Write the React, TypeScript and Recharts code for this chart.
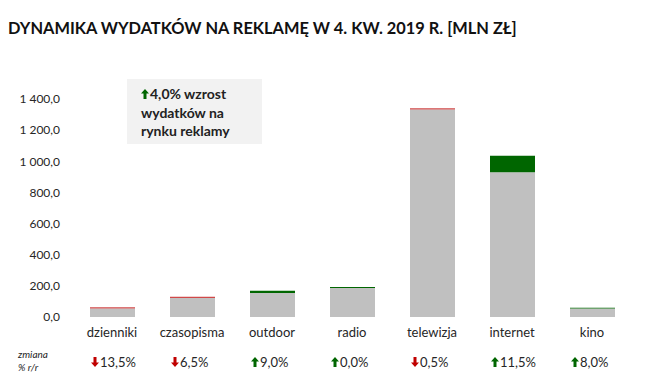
import { BarChart, Bar, XAxis, YAxis } from 'recharts';

const categories = ['dzienniki', 'czasopisma', 'outdoor', 'radio', 'telewizja', 'internet', 'kino'];
const baseValues = [54, 122, 154, 187, 1333, 929, 55];
const growthValues = [0, 0, 14, 5, 0, 106, 4.5];
const dropValues = [8.4, 8.5, 0, 0, 7, 0, 0];
const changePct = [-13.5, -6.5, 9.0, 0.0, -0.5, 11.5, 8.0];
const yTicks = [0, 200, 400, 600, 800, 1000, 1200, 1400];

const data = categories.map((name, i) => ({
    name,
    base: baseValues[i],
    growth: growthValues[i],
    drop: dropValues[i],
    pct: changePct[i],
}));

const FONT = 'Lato, "Open Sans", sans-serif';
const GREEN = '#006600';
const RED = '#c00000';
const TEXT = '#262626';

const fmtNum = (v: number) => {
    const [int, dec] = v.toFixed(1).split('.');
    return int.replace(/\B(?=(\d{3})+(?!\d))/g, ' ') + ',' + dec;
};

const Arrow = ({ x, y, up, color }: { x: number; y: number; up: boolean; color: string }) => {
    // arrow 8 wide, 10 tall, centred at x,y
    const pts = up
        ? [[0, -5], [4, -0.5], [1.5, -0.5], [1.5, 5], [-1.5, 5], [-1.5, -0.5], [-4, -0.5]]
        : [[0, 5], [4, 0.5], [1.5, 0.5], [1.5, -5], [-1.5, -5], [-1.5, 0.5], [-4, 0.5]];
    return <polygon points={pts.map(([a, b]) => `${x + a},${y + b}`).join(' ')} fill={color} />;
};

const CategoryTick = ({ x, y, payload, index }: any) => {
    const pct = changePct[index];
    const up = pct >= 0;
    const label = Math.abs(pct).toFixed(1).replace('.', ',') + '%';
    return (
        <g>
            <text x={x} y={y + 12} textAnchor="middle" fontSize={13} fill={TEXT} fontFamily={FONT}>
                {payload.value}
            </text>
            <Arrow x={x - 17} y={y + 37} up={up} color={up ? GREEN : RED} />
            <text x={x - 12} y={y + 42} textAnchor="start" fontSize={13} fill={TEXT} fontFamily={FONT}>
                {label}
            </text>
        </g>
    );
};

export default function App() {
    return (
        <div style={{ position: 'absolute', left: 0, top: 0, width: 655, height: 389, background: '#fff', fontFamily: FONT }}>
            <div style={{ position: 'absolute', left: 8, top: 18, fontSize: 16.4, fontWeight: 700, color: '#111', whiteSpace: 'nowrap' }}>
                DYNAMIKA WYDATKÓW NA REKLAMĘ W 4. KW. 2019 R. [MLN ZŁ]
            </div>
            <div
                style={{
                    position: 'absolute',
                    left: 127,
                    top: 79,
                    width: 135,
                    height: 65,
                    background: '#f2f2f2',
                }}
            />
            <div
                style={{
                    position: 'absolute',
                    left: 141,
                    top: 85,
                    fontSize: 14,
                    fontWeight: 700,
                    lineHeight: '18.5px',
                    color: '#222',
                    zIndex: 2,
                }}
            >
                <svg width={8} height={10} style={{ marginRight: 1 }}>
                    <Arrow x={4} y={5} up color={GREEN} />
                </svg>
                4,0% wzrost
                <br />
                wydatków na
                <br />
                rynku reklamy
            </div>
            <div style={{ position: 'absolute', left: 18, top: 348, fontSize: 10, fontStyle: 'italic', color: TEXT, lineHeight: '13px', zIndex: 2 }}>
                zmiana
                <br />% r/r
            </div>
            <div style={{ position: 'absolute', left: 0, top: 0 }}>
                <BarChart width={655} height={389} data={data} margin={{ top: 99, right: 23, bottom: 12, left: 0 }} barSize={45}>
                    <XAxis dataKey="name" axisLine={false} tickLine={false} tick={<CategoryTick />} interval={0} height={60} />
                    <YAxis
                        domain={[0, 1400]}
                        ticks={yTicks}
                        axisLine={false}
                        tickLine={false}
                        width={72}
                        tickMargin={6}
                        tickFormatter={fmtNum}
                        tick={{ fontSize: 12, fill: TEXT, fontFamily: FONT }}
                    />
                    <Bar dataKey="base" stackId="a" fill="#c0c0c0" isAnimationActive={false} />
                    <Bar dataKey="growth" stackId="a" fill={GREEN} isAnimationActive={false} />
                    <Bar dataKey="drop" stackId="a" fill="#d04848" isAnimationActive={false} />
                </BarChart>
            </div>
        </div>
    );
}
